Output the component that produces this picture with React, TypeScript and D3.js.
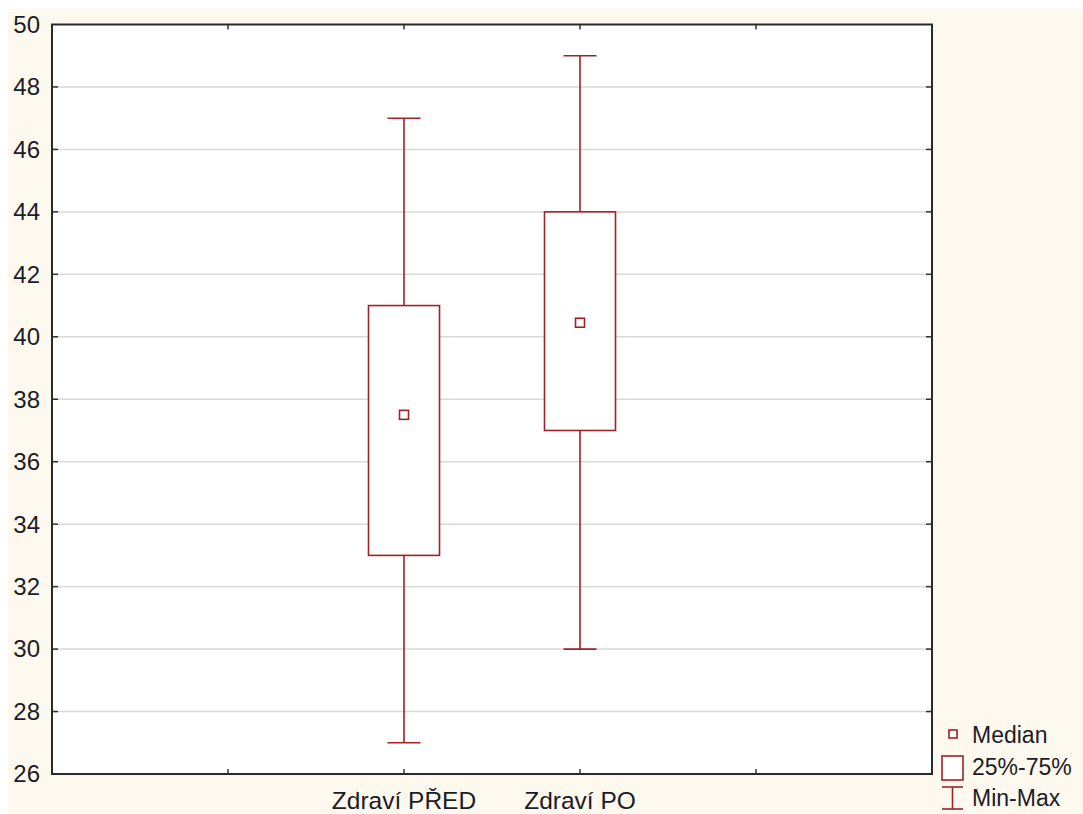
import React from "react";
import * as d3 from "d3";

const categories = ["Zdraví PŘED", "Zdraví PO"];
const categoryPositions = [2, 3];
const minValues = [27, 30];
const q1Values = [33, 37];
const medianValues = [37.5, 40.45];
const q3Values = [41, 44];
const maxValues = [47, 49];
const yTicks = [26, 28, 30, 32, 34, 36, 38, 40, 42, 44, 46, 48, 50];
const xTickPositions = [1, 2, 3, 4];
const legendItems = ["Median", "25%-75%", "Min-Max"];

const W = 1083;
const H = 814;
const plot = { left: 52, right: 932, top: 24.5, bottom: 774 };
const RED = "#9e2227";
const TXT = "#1c1c28";
const FONT = "'Liberation Sans', Arial, sans-serif";

export default function App() {
  const x = d3.scaleLinear().domain([0, 5]).range([plot.left, plot.right]);
  const y = d3.scaleLinear().domain([26, 50]).range([plot.bottom, plot.top]);
  const boxW = 71;
  const capW = 33;
  const medS = 9;

  return (
    <svg
      width={W}
      height={H}
      style={{ position: "absolute", left: 0, top: 0, display: "block" }}
      fontFamily={FONT}
    >
      <rect x={0} y={0} width={W} height={H} fill="#ffffff" />
      <rect x={8} y={9} width={W - 8} height={H - 9} fill="#fef9ee" />
      <rect
        x={plot.left}
        y={plot.top}
        width={plot.right - plot.left}
        height={plot.bottom - plot.top}
        fill="#ffffff"
      />
      {yTicks.slice(1, -1).map((t) => (
        <line
          key={"g" + t}
          x1={plot.left}
          x2={plot.right}
          y1={y(t)}
          y2={y(t)}
          stroke="#d9d9d9"
          strokeWidth={1.5}
        />
      ))}
      {yTicks.slice(1, -1).map((t) => (
        <g key={"t" + t}>
          <line x1={plot.left} x2={plot.left + 6} y1={y(t)} y2={y(t)} stroke="#333" strokeWidth={1.5} />
          <line x1={plot.right - 6} x2={plot.right} y1={y(t)} y2={y(t)} stroke="#333" strokeWidth={1.5} />
        </g>
      ))}
      {xTickPositions.map((p) => (
        <g key={"x" + p}>
          <line x1={x(p)} x2={x(p)} y1={plot.bottom} y2={plot.bottom - 5} stroke="#333" strokeWidth={1.5} />
          <line x1={x(p)} x2={x(p)} y1={plot.top} y2={plot.top + 5} stroke="#333" strokeWidth={1.5} />
        </g>
      ))}
      {categories.map((c, i) => {
        const cx = x(categoryPositions[i]);
        return (
          <g key={c} stroke={RED} strokeWidth={1.6} fill="none">
            <line x1={cx} x2={cx} y1={y(maxValues[i])} y2={y(q3Values[i])} />
            <line x1={cx} x2={cx} y1={y(q1Values[i])} y2={y(minValues[i])} />
            <line x1={cx - capW / 2} x2={cx + capW / 2} y1={y(maxValues[i])} y2={y(maxValues[i])} />
            <line x1={cx - capW / 2} x2={cx + capW / 2} y1={y(minValues[i])} y2={y(minValues[i])} />
            <rect
              x={cx - boxW / 2}
              y={y(q3Values[i])}
              width={boxW}
              height={y(q1Values[i]) - y(q3Values[i])}
              fill="#ffffff"
            />
            <rect
              x={cx - medS / 2}
              y={y(medianValues[i]) - medS / 2}
              width={medS}
              height={medS}
              fill="#ffffff"
            />
          </g>
        );
      })}
      <rect
        x={plot.left}
        y={plot.top}
        width={plot.right - plot.left}
        height={plot.bottom - plot.top}
        fill="none"
        stroke="#2a2a2a"
        strokeWidth={2}
      />
      {yTicks.map((t) => (
        <text
          key={"l" + t}
          x={40}
          y={y(t)}
          dy="0.35em"
          textAnchor="end"
          fontSize={24}
          fill={TXT}
        >
          {t}
        </text>
      ))}
      {categories.map((c, i) => (
        <text
          key={"xl" + c}
          x={x(categoryPositions[i])}
          y={809}
          textAnchor="middle"
          fontSize={24.5}
          fill={TXT}
        >
          {c}
        </text>
      ))}
      <g stroke={RED} strokeWidth={1.6} fill="#ffffff">
        <rect x={949} y={730} width={8} height={8} />
        <rect x={942} y={756} width={21} height={24} />
        <line x1={952.5} x2={952.5} y1={787} y2={809} />
        <line x1={942} x2={963} y1={787} y2={787} />
        <line x1={942} x2={963} y1={809} y2={809} />
      </g>
      {legendItems.map((l, i) => (
        <text key={l} x={972} y={735 + i * 31.5} dy="0.35em" fontSize={23} fill={TXT}>
          {l}
        </text>
      ))}
    </svg>
  );
}
